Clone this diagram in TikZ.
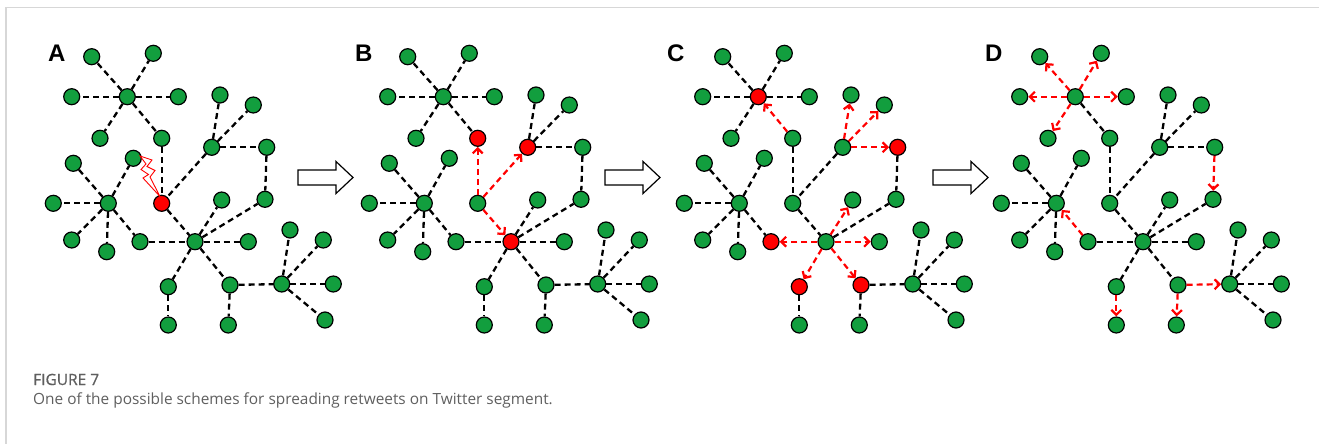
\documentclass[tikz,border=0pt]{standalone}
\usepackage{fontspec}
\usetikzlibrary{arrows.meta}
\newfontfamily\labfont{Liberation Sans}
\newfontfamily\capfont{Open Sans}
\newfontfamily\capboldfont[FakeBold=0.8]{Open Sans}
\definecolor{ngreen}{RGB}{18,158,62}
\definecolor{nred}{RGB}{255,0,0}
\definecolor{framegray}{RGB}{215,215,215}
\definecolor{capgray}{RGB}{95,95,95}
\tikzset{
  gn/.style={circle,draw=black,fill=ngreen,line width=1.2pt,minimum size=16pt,inner sep=0pt},
  pb7/.style={fill=nred}, pb10/.style={fill=nred}, pb22/.style={fill=nred},
  pa16/.style={fill=nred},
  pc4/.style={fill=nred}, pc11/.style={fill=nred}, pc21/.style={fill=nred}, pc26/.style={fill=nred}, pc27/.style={fill=nred},
  edge/.style={draw=black,line width=2.3pt,dash pattern=on 6pt off 4pt},
  redarrow/.style={draw=nred,line width=2.2pt,dash pattern=on 6pt off 4pt,-{Straight Barb[length=5pt,width=10pt]}},
  bigarrow/.style={draw=black,fill=white,line width=1.2pt,line join=miter},
  panellab/.style={font=\labfont\bfseries\fontsize{24}{24}\selectfont,anchor=base west,inner sep=0pt},
}
\newcommand\placenodes[2]{%
  \begin{scope}[xshift=#2pt]
  \foreach \i/\x/\y in {1/91.7/56.7, 2/153.3/53.3, 3/71.7/96.7, 4/127.3/96.7, 5/178.3/96.7,
    6/100/138.3, 7/161.7/138.3, 8/220/95, 9/253.3/105, 10/211.7/147.3, 11/266.7/147.3,
    12/73.3/163.3, 13/133.3/158.3, 14/53.3/203.3, 15/108.3/203.3, 16/161.7/203.3,
    17/221.7/200, 18/265/199.3, 19/71.7/240, 20/106.7/251.7, 21/140/241.7, 22/195/241.7,
    23/248.3/241.7, 24/290/230, 25/323.3/240, 26/168.3/286.7, 27/230/285, 28/281.7/284,
    29/333.3/284, 30/168.3/325, 31/228.3/325, 32/325/320}
    \node[gn,p#1\i/.try] (#1\i) at (\x,\y) {};
  \end{scope}}
\newcommand\bigarr[1]{%
  \draw[bigarrow] (#1,170) -- (#1+38,170) -- (#1+38,161.5) -- (#1+55,177.5) -- (#1+38,193.5) -- (#1+38,185) -- (#1,185) -- cycle;}
\begin{document}
\begin{tikzpicture}[x=1pt,y=-1pt]
\useasboundingbox (0,0) rectangle (1319,444);
% frame
\draw[framegray,line width=1.5pt] (6,444) -- (6,7.5) -- (1319,7.5);
% panels
\placenodes{a}{0}
\placenodes{b}{316}
\placenodes{c}{631}
\placenodes{d}{948}
% panel A edges
\foreach \u/\v in {4/1,4/2,4/3,4/5,4/6,4/7,7/16,10/8,10/9,10/11,10/16,11/18,15/12,15/13,15/14,15/19,15/20,15/21,16/22,21/22,22/17,22/18,22/23,22/26,22/27,26/30,27/31,27/28,28/24,28/25,28/29,28/32}
  \draw[edge] (a\u) -- (a\v);
% lightning
\draw[nred,line width=0.9pt,line join=miter] (140,156) -- (152,160) -- (147,166.5) -- (155,170.5) -- (150,177) -- (160,196.5) -- (143,178) -- (148.5,174.5) -- (141,169.5) -- (146,164) -- cycle;
% panel B edges
\foreach \u/\v in {4/1,4/2,4/3,4/5,4/6,4/7,10/8,10/9,10/11,11/18,15/12,15/13,15/14,15/19,15/20,15/21,21/22,22/17,22/18,22/23,22/26,22/27,26/30,27/31,27/28,28/24,28/25,28/29,28/32}
  \draw[edge] (b\u) -- (b\v);
\foreach \u/\v in {16/7,16/10,16/22}
  \draw[redarrow] (b\u) -- (b\v);
% panel C edges
\foreach \u/\v in {4/1,4/2,4/3,4/5,4/6,7/16,10/16,11/18,15/12,15/13,15/14,15/19,15/20,15/21,16/22,22/18,26/30,27/31,27/28,28/24,28/25,28/29,28/32}
  \draw[edge] (c\u) -- (c\v);
\foreach \u/\v in {7/4,10/8,10/9,10/11,22/17,22/21,22/23,22/26,22/27}
  \draw[redarrow] (c\u) -- (c\v);
% panel D edges
\foreach \u/\v in {4/7,7/16,10/8,10/9,10/11,10/16,15/12,15/13,15/14,15/19,15/20,16/22,21/22,22/17,22/18,22/23,22/26,22/27,28/24,28/25,28/29,28/32}
  \draw[edge] (d\u) -- (d\v);
\foreach \u/\v in {4/1,4/2,4/3,4/5,4/6,11/18,21/15,26/30,27/31,27/28}
  \draw[redarrow] (d\u) -- (d\v);
% transition arrows
\bigarr{298}
\bigarr{605}
\bigarr{933}
% panel labels
\node[panellab] (la) at (48,62) {A};
\node[panellab] (lb) at (355,62) {B};
\node[panellab] (lc) at (667,62) {C};
\node[panellab] (ld) at (985,62) {D};
% caption
\node[anchor=base west,inner sep=0pt,text=capgray,font=\capboldfont\fontsize{15.5}{15.5}\selectfont] (fig) at (33,385) {FIGURE 7};
\node[anchor=base west,inner sep=0pt,text=capgray,font=\capfont\fontsize{15.4}{15.4}\selectfont] (cap) at (33,404.5) {One of the possible schemes for spreading retweets on Twitter segment.};
\end{tikzpicture}
\end{document}
